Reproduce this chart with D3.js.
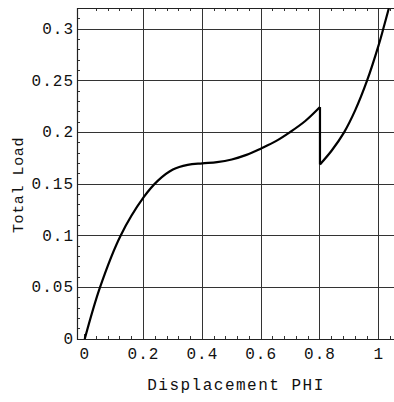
<!DOCTYPE html>
<html>
<head>
<meta charset="utf-8">
<script src="https://cdn.jsdelivr.net/npm/d3@7"></script>
<style>
  html, body { margin: 0; padding: 0; background: #fff; }
  svg { display: block; }
  text { font-family: "Liberation Mono", "DejaVu Sans Mono", monospace; fill: #111; }
</style>
</head>
<body>
<script>
// ---- data ----
const xTicks = [0, 0.2, 0.4, 0.6, 0.8, 1];
const xTickLabels = ["0", "0.2", "0.4", "0.6", "0.8", "1"];
const yTicks = [0, 0.05, 0.1, 0.15, 0.2, 0.25, 0.3];
const yTickLabels = ["0", "0.05", "0.1", "0.15", "0.2", "0.25", "0.3"];
const xLabel = "Displacement PHI";
const yLabel = "Total Load";

// branch before the drop at PHI = 0.8
const branch1X = [0, 0.052, 0.122, 0.2, 0.25, 0.3, 0.35, 0.4, 0.45, 0.5, 0.55, 0.6, 0.65, 0.697, 0.75, 0.8];
const branch1Y = [0, 0.05, 0.1, 0.137, 0.1535, 0.164, 0.1685, 0.170, 0.1712, 0.1738, 0.1782, 0.1845, 0.1915, 0.2, 0.211, 0.2245];
// branch after the drop
const branch2X = [0.8, 0.84, 0.882, 0.92, 0.96, 1.0, 1.015, 1.034];
const branch2Y = [0.169, 0.1825, 0.2, 0.2215, 0.25, 0.285, 0.3, 0.32];

// ---- layout ----
const W = 394, H = 402;
const mLeft = 77, mTop = 8, mRight = 394, mBottom = 339;

const x = d3.scaleLinear().domain([-0.0262, 1.0517]).range([mLeft, mRight]);
const y = d3.scaleLinear().domain([0, 0.3204]).range([mBottom, mTop]);

const svg = d3.select("body").append("svg").attr("width", W).attr("height", H);

// grid lines
svg.append("g").selectAll("line").data(xTicks.filter(d => d > 0)).join("line")
  .attr("x1", d => x(d)).attr("x2", d => x(d)).attr("y1", mTop).attr("y2", mBottom)
  .attr("stroke", "#333").attr("stroke-width", 1).attr("shape-rendering", "crispEdges");
svg.append("g").selectAll("line").data(yTicks.filter(d => d > 0)).join("line")
  .attr("x1", mLeft).attr("x2", mRight).attr("y1", d => y(d)).attr("y2", d => y(d))
  .attr("stroke", "#333").attr("stroke-width", 1).attr("shape-rendering", "crispEdges");

// minor ticks
const xMinor = d3.range(0, 1.05, 0.04).filter(v => Math.abs(v / 0.2 - Math.round(v / 0.2)) > 1e-6);
const yMinor = d3.range(0, 0.321, 0.01).filter(v => Math.abs(v / 0.05 - Math.round(v / 0.05)) > 1e-6);
const tk = svg.append("g").attr("stroke", "#333").attr("stroke-width", 1).attr("shape-rendering", "crispEdges");
tk.selectAll(".xb").data(xMinor).join("line").attr("class", "xb")
  .attr("x1", d => x(d)).attr("x2", d => x(d)).attr("y1", mBottom).attr("y2", mBottom - 3);
tk.selectAll(".xt").data(xMinor).join("line").attr("class", "xt")
  .attr("x1", d => x(d)).attr("x2", d => x(d)).attr("y1", mTop).attr("y2", mTop + 3);
tk.selectAll(".yl").data(yMinor).join("line").attr("class", "yl")
  .attr("x1", mLeft).attr("x2", mLeft + 3).attr("y1", d => y(d)).attr("y2", d => y(d));
tk.selectAll(".x0").data([0]).join("line").attr("class", "x0")
  .attr("x1", d => x(d)).attr("x2", d => x(d)).attr("y1", mBottom).attr("y2", mBottom - 5);

// frame (left, bottom, top)
svg.append("path")
  .attr("d", `M${mRight},${mTop + 0.5}H${mLeft + 0.5}V${mBottom + 0.5}H${mRight}`)
  .attr("fill", "none").attr("stroke", "#222").attr("stroke-width", 1.2);

// curves
const line = d3.line().x(d => x(d[0])).y(d => y(d[1])).curve(d3.curveCatmullRom.alpha(0.5));
const b1 = branch1X.map((v, i) => [v, branch1Y[i]]);
const b2 = branch2X.map((v, i) => [v, branch2Y[i]]);
svg.append("clipPath").attr("id", "clip").append("rect")
  .attr("x", mLeft).attr("y", mTop).attr("width", mRight - mLeft).attr("height", mBottom - mTop);
const cg = svg.append("g").attr("clip-path", "url(#clip)");
cg.append("path").attr("d", line(b1)).attr("fill", "none").attr("stroke", "#000").attr("stroke-width", 2.2);
cg.append("line")
  .attr("x1", x(0.8)).attr("x2", x(0.8)).attr("y1", y(branch1Y[branch1Y.length - 1])).attr("y2", y(branch2Y[0]))
  .attr("stroke", "#000").attr("stroke-width", 2.2);
cg.append("path").attr("d", line(b2)).attr("fill", "none").attr("stroke", "#000").attr("stroke-width", 2.2);

// tick labels
svg.append("g").selectAll("text").data(xTicks).join("text")
  .attr("x", d => x(d)).attr("y", 359)
  .attr("text-anchor", "middle").attr("font-size", 16).attr("letter-spacing", 1)
  .text((d, i) => xTickLabels[i]);
svg.append("g").selectAll("text").data(yTicks).join("text")
  .attr("x", 74).attr("y", d => y(d) + 5)
  .attr("text-anchor", "end").attr("font-size", 16).attr("letter-spacing", 1)
  .text((d, i) => yTickLabels[i]);

// axis labels
svg.append("text").attr("x", 236).attr("y", 390)
  .attr("text-anchor", "middle").attr("font-size", 16).attr("letter-spacing", 1.5)
  .text(xLabel);
svg.append("text")
  .attr("transform", `translate(23,185) rotate(-90)`)
  .attr("text-anchor", "middle").attr("font-size", 15).attr("letter-spacing", 0.6)
  .text(yLabel);
</script>
</body>
</html>
